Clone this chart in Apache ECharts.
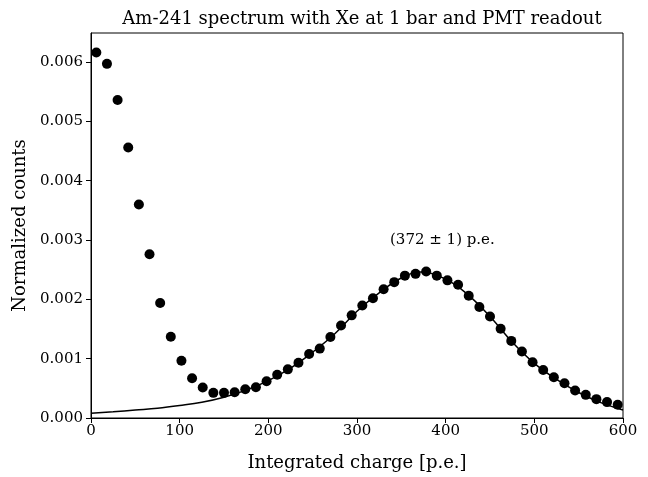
<!DOCTYPE html>
<html>
<head>
<meta charset="utf-8">
<script src="https://cdn.jsdelivr.net/npm/echarts@6/dist/echarts.min.js"></script>
<style>html,body{margin:0;padding:0;background:#fff}#c{width:648px;height:477px}</style>
</head>
<body>
<div id="c"></div>
<script>
// Bin centers [p.e.]
var charge = [6,18,30,42,54,66,78,90,102,114,126,138,150,162,174,186,198,210,222,234,246,258,270,282,294,306,318,330,342,354,366,378,390,402,414,426,438,450,462,474,486,498,510,522,534,546,558,570,582,594];
// Normalized counts (x1e-3)
var counts = [6.16,5.97,5.36,4.56,3.60,2.76,1.94,1.37,0.965,0.669,0.513,0.424,0.424,0.435,0.485,0.518,0.619,0.73,0.82,0.93,1.08,1.17,1.366,1.56,1.73,1.895,2.02,2.17,2.29,2.40,2.43,2.47,2.40,2.32,2.245,2.06,1.87,1.71,1.505,1.30,1.12,0.94,0.81,0.686,0.585,0.463,0.39,0.318,0.268,0.223];
// Fit curve
var fitX = [0,25,50,75,100,125,150,175,200,225,250,275,300,325,350,372,400,425,450,475,500,525,550,575,600];
var fitY = [0.08,0.105,0.135,0.165,0.21,0.265,0.35,0.47,0.63,0.84,1.11,1.42,1.80,2.11,2.36,2.46,2.34,2.08,1.71,1.28,0.92,0.65,0.43,0.26,0.135];
var yTicks = [0,0.001,0.002,0.003,0.004,0.005,0.006];
var xTicks = [0,100,200,300,400,500,600];
var titleText = 'Am-241 spectrum with Xe at 1 bar and PMT readout';
var annotation = '(372 \u00b1 1) p.e.';

var font = 'DejaVu Serif';
var pts = charge.map(function(x,i){return [x, counts[i]*1e-3];});
var fit = fitX.map(function(x,i){return [x, fitY[i]*1e-3];});

var chart = echarts.init(document.getElementById('c'));
chart.setOption({
  animation: false,
  backgroundColor: '#fff',
  title: {text: titleText, left: 357, textAlign: 'center', top: 5,
    textStyle: {fontFamily: font, fontWeight: 'normal', fontSize: 18, color: '#000'}},
  grid: {left: 91, right: 25, top: 33, bottom: 56, show: true, borderColor: '#000', borderWidth: 1, backgroundColor: '#fff'},
  xAxis: {type: 'value', min: 0, max: 600, interval: 100,
    name: 'Integrated charge [p.e.]', nameLocation: 'middle', nameGap: 36,
    nameTextStyle: {fontFamily: font, fontSize: 18, color: '#000'},
    axisLine: {lineStyle: {color: '#000', width: 1}},
    axisTick: {length: 5, lineStyle: {color: '#000'}, customValues: xTicks},
    axisLabel: {fontFamily: font, fontSize: 15, color: '#000', margin: 6, customValues: xTicks},
    splitLine: {show: false}},
  yAxis: {type: 'value', min: 0, max: 0.00649,
    name: 'Normalized counts', nameLocation: 'middle', nameGap: 62,
    nameTextStyle: {fontFamily: font, fontSize: 18, color: '#000'},
    axisLine: {show: true, lineStyle: {color: '#000', width: 1}},
    axisTick: {show: true, length: 5, lineStyle: {color: '#000'}, customValues: yTicks},
    axisLabel: {fontFamily: font, fontSize: 15, color: '#000', margin: 8, customValues: yTicks,
      formatter: function(v){return v.toFixed(3);}},
    splitLine: {show: false}},
  graphic: [{type: 'text', left: 390, top: 233,
    style: {text: annotation, font: '15px "DejaVu Serif"', fill: '#000'}}],
  series: [
    {type: 'line', data: fit, smooth: 0.4, showSymbol: false, lineStyle: {color: '#000', width: 1.5}, z: 3},
    {type: 'scatter', data: pts, symbol: 'circle', symbolSize: 10, itemStyle: {color: '#000', opacity: 1}, z: 4}
  ]
});
</script>
</body>
</html>
